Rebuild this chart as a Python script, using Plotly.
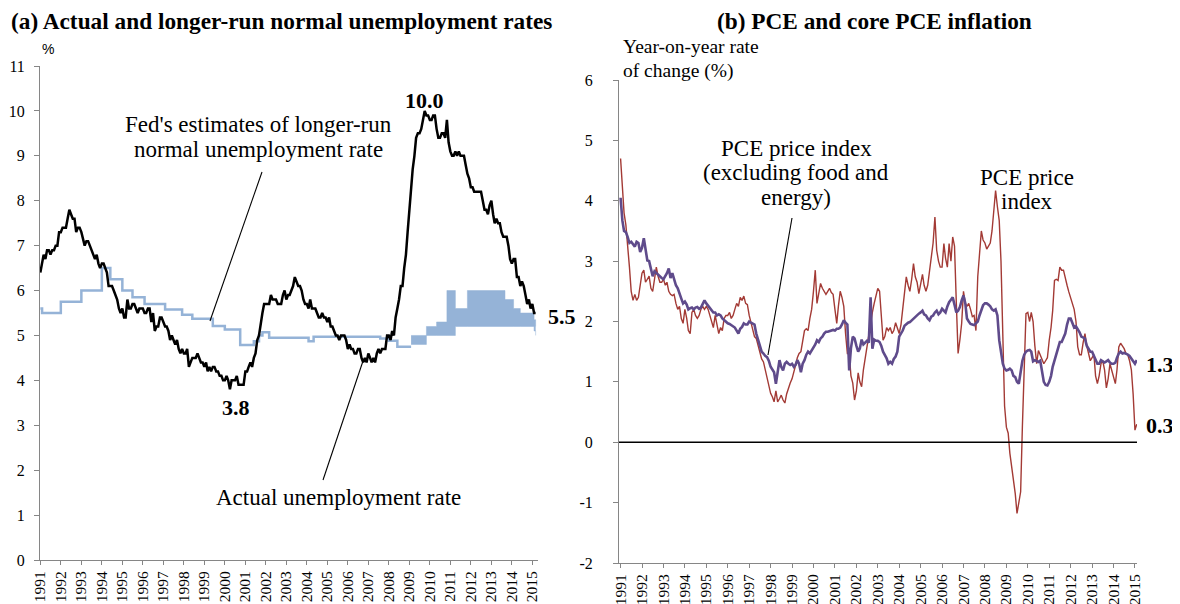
import pandas as pd
import plotly.graph_objects as go

# ---------------- data ----------------
# (a) actual unemployment rate, monthly, Jan 1991 - Mar 2015 (%)
unemployment = [
    6.4, 6.6, 6.8, 6.7, 6.9, 6.9, 6.8, 6.9, 6.9, 7.0, 7.0, 7.3,   # 1991
    7.3, 7.4, 7.4, 7.4, 7.6, 7.8, 7.7, 7.6, 7.6, 7.3, 7.4, 7.4,   # 1992
    7.3, 7.1, 7.0, 7.1, 7.1, 7.0, 6.9, 6.8, 6.7, 6.8, 6.6, 6.5,   # 1993
    6.6, 6.6, 6.5, 6.4, 6.1, 6.1, 6.1, 6.0, 5.9, 5.8, 5.6, 5.5,   # 1994
    5.6, 5.4, 5.4, 5.8, 5.6, 5.6, 5.7, 5.7, 5.6, 5.5, 5.6, 5.6,   # 1995
    5.6, 5.5, 5.5, 5.6, 5.6, 5.3, 5.5, 5.1, 5.2, 5.2, 5.4, 5.4,   # 1996
    5.3, 5.2, 5.2, 5.1, 4.9, 5.0, 4.9, 4.8, 4.9, 4.7, 4.6, 4.7,   # 1997
    4.6, 4.6, 4.7, 4.3, 4.4, 4.5, 4.5, 4.5, 4.6, 4.5, 4.4, 4.4,   # 1998
    4.3, 4.4, 4.2, 4.3, 4.2, 4.3, 4.3, 4.2, 4.2, 4.1, 4.1, 4.0,   # 1999
    4.0, 4.1, 4.0, 3.8, 4.0, 4.0, 4.0, 4.1, 3.9, 3.9, 3.9, 3.9,   # 2000
    4.2, 4.2, 4.3, 4.4, 4.3, 4.5, 4.6, 4.9, 5.0, 5.3, 5.5, 5.7,   # 2001
    5.7, 5.7, 5.7, 5.9, 5.8, 5.8, 5.8, 5.7, 5.7, 5.7, 5.9, 6.0,   # 2002
    5.8, 5.9, 5.9, 6.0, 6.1, 6.3, 6.2, 6.1, 6.1, 6.0, 5.8, 5.7,   # 2003
    5.7, 5.6, 5.8, 5.6, 5.6, 5.6, 5.5, 5.4, 5.4, 5.5, 5.4, 5.4,   # 2004
    5.3, 5.4, 5.2, 5.2, 5.1, 5.0, 5.0, 4.9, 5.0, 5.0, 5.0, 4.9,   # 2005
    4.7, 4.8, 4.7, 4.7, 4.6, 4.6, 4.7, 4.7, 4.5, 4.4, 4.5, 4.4,   # 2006
    4.6, 4.5, 4.4, 4.5, 4.4, 4.6, 4.7, 4.6, 4.7, 4.7, 4.7, 5.0,   # 2007
    5.0, 4.9, 5.1, 5.0, 5.4, 5.6, 5.8, 6.1, 6.1, 6.5, 6.8, 7.3,   # 2008
    7.8, 8.3, 8.7, 9.0, 9.4, 9.5, 9.5, 9.6, 9.8, 10.0, 9.9, 9.9,  # 2009
    9.8, 9.8, 9.9, 9.9, 9.6, 9.4, 9.4, 9.5, 9.5, 9.4, 9.8, 9.3,   # 2010
    9.1, 9.0, 9.0, 9.1, 9.0, 9.1, 9.0, 9.0, 9.0, 8.8, 8.6, 8.5,   # 2011
    8.3, 8.3, 8.2, 8.2, 8.2, 8.2, 8.2, 8.0, 7.8, 7.8, 7.7, 7.9,   # 2012
    8.0, 7.7, 7.5, 7.6, 7.5, 7.5, 7.3, 7.2, 7.2, 7.2, 7.0, 6.7,   # 2013
    6.6, 6.7, 6.7, 6.3, 6.3, 6.1, 6.2, 6.1, 5.9, 5.7, 5.8, 5.6,   # 2014
    5.7, 5.5, 5.5,                                                # 2015
]

# Fed's estimate of longer-run normal unemployment rate (step changes)
fed_dates = ["1991-01-01", "1991-02-01", "1992-01-01", "1993-01-01", "1994-01-01",
             "1994-06-01", "1995-01-01", "1995-07-01", "1996-02-01", "1997-02-01",
             "1997-12-01", "1998-06-01", "1999-06-01", "2000-01-01", "2000-10-01",
             "2001-06-01", "2001-09-01", "2001-11-01", "2002-03-01", "2004-02-01",
             "2004-05-01", "2007-08-01", "2008-01-01", "2008-06-01", "2009-02-01"]
fed_values = [5.6, 5.5, 5.75, 6.0, 6.5,
              6.25, 6.0, 5.85, 5.7, 5.58,
              5.46, 5.37, 5.21, 5.13, 4.79,
              4.87, 5.0, 5.07, 4.95, 4.87,
              4.97, 4.93, 4.88, 4.75, 4.75]

# FOMC central tendency range for the longer-run unemployment rate
band_dates = ["2009-02-01", "2009-11-01", "2010-05-01", "2010-11-01", "2011-04-01",
              "2011-11-01", "2013-09-01", "2014-02-01", "2014-06-01", "2015-02-01",
              "2015-03-01"]
band_low = [4.8, 5.0, 5.0, 5.0, 5.2, 5.2, 5.2, 5.2, 5.2, 5.1, 5.0]
band_high = [5.0, 5.2, 5.3, 6.0, 5.6, 6.0, 5.8, 5.6, 5.5, 5.35, 5.2]

# (b) PCE inflation, year-on-year, monthly, Jan 1991 - Feb 2015 (%)
pce = [
    4.7, 4.1, 3.8, 3.6, 3.3, 2.9, 2.5, 2.35, 2.45, 2.35, 2.4, 2.6,      # 1991
    2.8, 2.85, 2.65, 2.7, 2.75, 2.55, 2.5, 2.7, 2.9, 2.75, 2.65, 2.65,  # 1992
    2.7, 2.6, 2.65, 2.5, 2.45, 2.43, 2.45, 2.3, 2.2, 2.25, 2.05, 1.97,  # 1993
    2.2, 2.05, 1.85, 1.8, 2.15, 2.2, 2.1, 2.05, 2.1, 2.2, 2.25, 2.2,    # 1994
    2.25, 2.2, 2.1, 2.0, 1.9, 2.1, 1.95, 1.8, 1.9, 1.85, 2.05, 2.1,     # 1995
    2.1, 2.15, 2.05, 2.1, 2.2, 2.3, 2.25, 2.4, 2.35, 2.42, 2.3, 2.28,   # 1996
    2.1, 1.97, 1.85, 1.75, 1.72, 1.6, 1.45, 1.38, 1.33, 1.2, 1.03, 0.95,  # 1997
    0.81, 0.75, 0.67, 0.85, 0.67, 0.72, 0.78, 0.7, 0.65, 0.8, 0.9, 0.98,  # 1998
    1.05, 1.15, 1.27, 1.4, 1.47, 1.5, 1.7, 1.85, 1.88, 1.85, 2.05, 2.2,   # 1999
    2.5, 2.85, 2.3, 2.45, 2.63, 2.55, 2.5, 2.45, 2.5, 2.55, 2.48, 2.45,   # 2000
    2.2, 1.97, 2.25, 2.5, 2.4, 2.25, 1.8, 1.47, 1.47, 1.1, 0.98, 0.7,     # 2001
    0.85, 1.15, 1.0, 0.92, 1.2, 1.4, 1.58, 1.75, 1.97, 2.15, 2.3, 2.45,   # 2002
    2.55, 2.5, 2.15, 1.69, 1.75, 1.9, 1.85, 1.9, 1.8, 1.85, 1.98, 1.9,    # 2003
    1.8, 1.95, 2.2, 2.5, 2.74, 2.6, 2.5, 2.7, 2.96, 2.74, 2.65, 2.46,     # 2004
    2.6, 2.78, 2.6, 2.5, 2.6, 2.85, 3.1, 3.3, 3.73, 3.18, 3.0, 2.9,       # 2005
    2.9, 3.29, 3.05, 2.9, 3.29, 3.0, 3.4, 3.25, 2.3, 1.47, 1.7, 1.97,     # 2006
    2.5, 2.3, 2.25, 2.3, 2.2, 2.08, 2.1, 1.85, 2.74, 3.1, 3.5, 3.35,      # 2007
    3.3, 3.2, 3.25, 3.3, 3.5, 3.9, 4.17, 3.9, 3.67, 3.0, 1.91, 0.6,       # 2008
    0.25, 0.15, -0.18, -0.4, -0.65, -0.85, -1.18, -1.0, -0.82, 0.27, 1.25, 2.13,  # 2009
    2.15, 2.0, 2.15, 2.0, 1.6, 1.3, 1.52, 1.45, 1.38, 1.3, 1.35, 1.4,     # 2010
    1.69, 1.9, 2.18, 2.68, 2.7, 2.68, 2.9, 2.85, 2.85, 2.7, 2.6, 2.49,    # 2011
    2.4, 2.3, 2.2, 2.0, 1.58, 1.45, 1.45, 1.65, 1.8, 1.6, 1.45, 1.35,     # 2012
    1.4, 1.45, 1.1, 0.97, 1.1, 1.3, 1.35, 1.2, 0.9, 1.05, 1.3, 1.2,       # 2013
    1.1, 0.97, 1.2, 1.58, 1.64, 1.6, 1.55, 1.47, 1.45, 1.35, 1.2, 0.8,    # 2014
    0.2, 0.3,                                                             # 2015
]

# core PCE inflation (excluding food and energy), year-on-year (%)
core_pce = [
    4.05, 3.67, 3.5, 3.48, 3.4, 3.3, 3.32, 3.28, 3.24, 3.32, 3.3, 3.15,   # 1991
    3.22, 3.38, 3.2, 3.01, 3.0, 2.85, 2.75, 2.83, 2.8, 2.78, 2.74, 2.72,  # 1992
    2.7, 2.75, 2.8, 2.88, 2.72, 2.8, 2.7, 2.6, 2.55, 2.45, 2.38, 2.3,     # 1993
    2.33, 2.28, 2.2, 2.22, 2.23, 2.2, 2.23, 2.24, 2.21, 2.23, 2.3, 2.35,  # 1994
    2.3, 2.26, 2.22, 2.2, 2.15, 2.15, 2.1, 2.12, 2.1, 2.05, 2.02, 2.0,    # 1995
    1.97, 1.96, 1.94, 1.92, 1.9, 1.85, 1.8, 1.88, 1.91, 1.97, 1.95, 1.95, # 1996
    2.0, 1.98, 1.97, 1.95, 1.8, 1.7, 1.58, 1.5, 1.47, 1.43, 1.41, 1.35,   # 1997
    1.25, 1.2, 1.16, 0.97, 1.2, 1.36, 1.25, 1.19, 1.3, 1.33, 1.3, 1.28,   # 1998
    1.3, 1.25, 1.28, 1.36, 1.3, 1.16, 1.3, 1.36, 1.45, 1.5, 1.47, 1.52,   # 1999
    1.56, 1.62, 1.69, 1.66, 1.72, 1.75, 1.8, 1.83, 1.83, 1.84, 1.85, 1.86,  # 2000
    1.85, 1.88, 1.88, 1.9, 1.95, 2.02, 1.98, 1.95, 1.19, 1.56, 1.75, 1.72,  # 2001
    1.6, 1.5, 1.55, 1.7, 1.62, 1.66, 1.68, 1.65, 2.4, 1.55, 1.7, 1.68,      # 2002
    1.68, 1.66, 1.6, 1.5, 1.45, 1.39, 1.3, 1.33, 1.3, 1.38, 1.42, 1.5,      # 2003
    1.75, 1.8, 1.85, 1.93, 1.96, 1.98, 1.99, 2.02, 2.04, 2.07, 2.1, 2.13,   # 2004
    2.15, 2.18, 2.12, 2.1, 2.05, 2.02, 2.08, 2.1, 2.15, 2.18, 2.12, 2.15,   # 2005
    2.21, 2.18, 2.15, 2.25, 2.32, 2.36, 2.4, 2.28, 2.15, 2.18, 2.24, 2.35,  # 2006
    2.43, 2.3, 2.05, 2.0, 1.96, 1.95, 1.94, 1.97, 2.0, 2.1, 2.18, 2.27,     # 2007
    2.3, 2.3, 2.28, 2.25, 2.2, 2.18, 2.2, 2.1, 1.69, 1.5, 1.3, 1.22,       # 2008
    1.19, 1.2, 1.22, 1.19, 1.1, 1.08, 1.0, 0.97, 1.2, 1.35, 1.45, 1.5,     # 2009
    1.52, 1.53, 1.5, 1.34, 1.36, 1.34, 1.33, 1.35, 1.15, 1.0, 0.95, 0.94,  # 2010
    1.0, 1.1, 1.25, 1.35, 1.47, 1.55, 1.66, 1.66, 1.72, 1.8, 1.95, 2.05,   # 2011
    2.05, 1.98, 1.9, 1.92, 1.88, 1.82, 1.75, 1.73, 1.72, 1.6, 1.55, 1.5,   # 2012
    1.5, 1.42, 1.35, 1.3, 1.3, 1.36, 1.34, 1.32, 1.34, 1.36, 1.32, 1.3,    # 2013
    1.3, 1.32, 1.4, 1.47, 1.5, 1.47, 1.48, 1.47, 1.45, 1.43, 1.38, 1.34,   # 2014
    1.3, 1.36,                                                             # 2015
]

left_yticks = list(range(0, 12))
right_yticks = list(range(-2, 7))
right_ytext = [str(v) for v in right_yticks]   # plain hyphen minus as in the source

unemp_dates = pd.date_range("1991-01-01", periods=len(unemployment), freq="MS")
pce_dates = pd.date_range("1991-01-01", periods=len(pce), freq="MS")

# ---------------- styling ----------------
SERIF = "Liberation Serif, Times New Roman, serif"
SANS = "Liberation Sans, Arial, sans-serif"
AXIS_GREY = "#868686"
BLUE = "#95B3D7"
RED = "#A33A35"
PURPLE = "#5F4B8B"
# the page body adds an 8px margin, so the figure is drawn 8px in from the window edge
OFF = 8
W, H = 1180 - OFF, 604 - OFF

def px(x):
    return (x - OFF) / W

def py(y):
    return 1 - (y - OFF) / H

fig = go.Figure()

# (a) Fed estimate line
fig.add_trace(go.Scatter(x=fed_dates, y=fed_values, mode="lines",
                         line=dict(color=BLUE, width=2.5, shape="hv"),
                         xaxis="x", yaxis="y", showlegend=False))
# (a) FOMC band
fig.add_trace(go.Scatter(x=band_dates, y=band_low, mode="lines",
                         line=dict(color=BLUE, width=0.5, shape="hv"),
                         xaxis="x", yaxis="y", showlegend=False))
fig.add_trace(go.Scatter(x=band_dates, y=band_high, mode="lines",
                         line=dict(color=BLUE, width=0.5, shape="hv"),
                         fill="tonexty", fillcolor=BLUE,
                         xaxis="x", yaxis="y", showlegend=False))
# (a) actual unemployment
fig.add_trace(go.Scatter(x=unemp_dates, y=unemployment, mode="lines",
                         line=dict(color="black", width=2.5),
                         xaxis="x", yaxis="y", showlegend=False))

# (b) headline and core PCE
fig.add_trace(go.Scatter(x=pce_dates, y=pce, mode="lines",
                         line=dict(color=RED, width=1.4),
                         xaxis="x2", yaxis="y2", showlegend=False))
fig.add_trace(go.Scatter(x=pce_dates, y=core_pce, mode="lines",
                         line=dict(color=PURPLE, width=2.6),
                         xaxis="x2", yaxis="y2", showlegend=False))

xcommon = dict(type="date", tickformat="%Y", dtick="M12", tick0="1991-01-01",
               tickangle=-90, ticks="outside", ticklen=4, tickcolor=AXIS_GREY,
               showline=True, linecolor=AXIS_GREY, linewidth=1, showgrid=False,
               zeroline=False, automargin=False,
               tickfont=dict(family=SERIF, size=15.5, color="black"))
ycommon = dict(ticks="outside", ticklen=5, tickcolor=AXIS_GREY,
               showline=True, linecolor=AXIS_GREY, linewidth=1, showgrid=False,
               zeroline=False, automargin=False,
               tickfont=dict(family=SERIF, size=16, color="black"))

fig.update_layout(
    width=W, height=H,
    margin=dict(l=0, r=0, t=0, b=0, pad=0, autoexpand=False),
    paper_bgcolor="white", plot_bgcolor="white",
    xaxis=dict(xcommon, domain=[px(40), px(538)], anchor="y",
               range=["1990-12-26", "2015-04-12"]),
    yaxis=dict(ycommon, domain=[py(560), py(66)], anchor="x", range=[0, 11],
               tickvals=left_yticks, ticklabelstandoff=6),
    xaxis2=dict(xcommon, domain=[px(619), px(1137)], anchor="y2",
                range=["1990-12-05", "2015-02-05"]),
    yaxis2=dict(ycommon, domain=[py(563), py(80)], anchor="x2", range=[-2, 6],
                tickvals=right_yticks, ticktext=right_ytext, ticklabelstandoff=17),
)

# zero line on (b)
fig.add_shape(type="line", xref="x2 domain", yref="y2", x0=0, x1=1, y0=0, y1=0,
              line=dict(color="black", width=1.3))

# leader lines
leaders = [((262, 172), (210, 321)), ((323, 480), (363, 361)), ((792, 218), (768, 355))]
for (x0, y0), (x1, y1) in leaders:
    fig.add_shape(type="line", xref="paper", yref="paper",
                  x0=px(x0), y0=py(y0), x1=px(x1), y1=py(y1),
                  line=dict(color="black", width=1.1))

def note(text, x, y, size=23, bold=False, family=SERIF, xanchor="center"):
    fig.add_annotation(text=f"<b>{text}</b>" if bold else text,
                       xref="paper", yref="paper", x=px(x), y=py(y),
                       xanchor=xanchor, yanchor="middle", showarrow=False,
                       font=dict(family=family, size=size, color="black"))

note("(a) Actual and longer-run normal unemployment rates", 281, 21, size=23.3, bold=True)
note("(b) PCE and core PCE inflation", 874, 21, size=23.3, bold=True)
note("%", 48, 49, size=14, family=SANS)
note("Year-on-year rate", 621, 47, size=19.5, xanchor="left")
note("of change (%)", 621, 71, size=19.5, xanchor="left")
note("Fed's estimates of longer-run", 258, 125, size=23)
note("normal unemployment rate", 258, 149, size=23)
note("Actual unemployment rate", 338, 497, size=23)
note("PCE price index", 796, 148, size=23)
note("(excluding food and", 796, 173, size=23)
note("energy)", 796, 198, size=23)
note("PCE price", 1027, 177, size=23)
note("index", 1027, 201, size=23)
note("10.0", 424, 100, size=22, bold=True)
note("3.8", 236, 407, size=22, bold=True)
note("5.5", 562, 316, size=22, bold=True)
note("1.3", 1160, 364, size=22, bold=True)
note("0.3", 1160, 425, size=22, bold=True)

fig.write_html("out.html")
